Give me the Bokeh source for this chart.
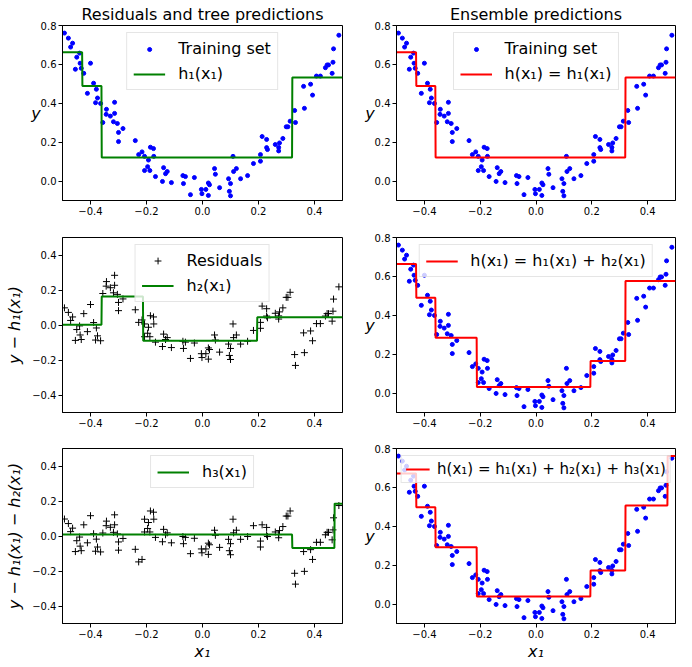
import numpy as np
from bokeh.plotting import figure
from bokeh.models import FixedTicker, Legend, LegendItem, CustomJSTickFormatter
from bokeh.layouts import column, row
from bokeh.embed import file_html
from bokeh.resources import INLINE

# ---- data ----
x1 = [-0.493, -0.479, -0.464, -0.471, -0.439, -0.449, -0.437, -0.400, -0.433, -0.454,
      -0.424, -0.389, -0.379, -0.411, -0.375, -0.382, -0.364, -0.314, -0.343, -0.344,
      -0.329, -0.314, -0.356, -0.318, -0.304, -0.284, -0.300, -0.300, -0.240,
      -0.228, -0.216, -0.207, -0.186, -0.175, -0.193, -0.174, -0.196, -0.207, -0.188,
      -0.168, -0.139, -0.126, -0.132, -0.143, -0.111, -0.070, -0.061, -0.029, -0.068,
      -0.043, -0.004, -0.002, 0.012,
      0.021, 0.021, 0.025, 0.043, 0.046, 0.061, 0.093, 0.100, 0.096, 0.100,
      0.109, 0.111, 0.121, 0.136, 0.161, 0.182, 0.207, 0.207, 0.213, 0.229,
      0.229, 0.232, 0.260,
      0.272, 0.272, 0.275, 0.287, 0.299, 0.305, 0.313, 0.332, 0.329, 0.364,
      0.361, 0.386, 0.393, 0.407, 0.421, 0.439, 0.445, 0.450, 0.463, 0.466,
      0.468, 0.487]
y = [0.761, 0.735, 0.709, 0.689, 0.658, 0.637, 0.606, 0.606, 0.580, 0.575,
     0.554, 0.503, 0.472, 0.451, 0.427, 0.403, 0.399, 0.405, 0.369, 0.343,
     0.334, 0.348, 0.301, 0.305, 0.296, 0.270, 0.250, 0.203, 0.208,
     0.136, 0.150, 0.127, 0.174, 0.167, 0.108, 0.127, 0.074, 0.054, 0.054,
     0.023, 0.069, 0.049, 0.038, -0.002, -0.008, 0.028, 0.023, 0.018, -0.013,
     -0.070, -0.043, -0.065, -0.043,
     -0.074, -0.010, -0.019, 0.064, 0.035, -0.034, 0.012, -0.013, -0.053, -0.076,
     0.127, 0.049, 0.064, 0.012, 0.028, 0.090, 0.102, 0.136, 0.229, 0.214,
     0.172, 0.162, 0.188,
     0.173, 0.155, 0.196, 0.219, 0.279, 0.279, 0.308, 0.301, 0.363, 0.374,
     0.487, 0.498, 0.442, 0.540, 0.540, 0.583, 0.597, 0.597, 0.554, 0.611,
     0.680, 0.750]

# regression-tree predictions (split points and leaf values)
h1_edges = [-0.5, -0.429, -0.360, 0.320, 0.5]
h1_values = [0.663, 0.489, 0.121, 0.532]
h2_edges = [-0.5, -0.360, -0.212, 0.195, 0.5]
h2_values = [0.001, 0.163, -0.090, 0.044]
h3_edges = [-0.5, 0.320, 0.471, 0.5]
h3_values = [0.008, -0.069, 0.185]

x_ticks = [-0.4, -0.2, 0.0, 0.2, 0.4]
y_ticks_data = [0.0, 0.2, 0.4, 0.6, 0.8]
y_ticks_res = [-0.4, -0.2, 0.0, 0.2, 0.4]

titles = ["Residuals and tree predictions", "Ensemble predictions"]

FONT = "DejaVu Sans"


def tree_predict(edges, values, xs):
    xs = np.asarray(xs)
    idx = np.clip(np.searchsorted(edges, xs, side="right") - 1, 0, len(values) - 1)
    return np.asarray(values)[idx]


X = np.asarray(x1)
Y = np.asarray(y)
x_grid = np.linspace(-0.5, 0.5, 1000)
p1 = tree_predict(h1_edges, h1_values, x_grid)
p2 = tree_predict(h2_edges, h2_values, x_grid)
p3 = tree_predict(h3_edges, h3_values, x_grid)
res1 = Y - tree_predict(h1_edges, h1_values, X)
res2 = res1 - tree_predict(h2_edges, h2_values, X)

fmt = CustomJSTickFormatter(code="return tick.toFixed(1).replace('-', '\\u2212');")


def make_fig(col, rowi, yrange, yticks, title=None, ylabel=None, horizontal=False, xlabel=None):
    left = 62 if col == 0 else 44
    right = 10 if col == 0 else 17
    top = 25 if rowi == 0 else 15
    bottom = 44 if rowi == 2 else (22 if rowi == 0 else 21)
    p = figure(frame_width=280 if col == 0 else 279, frame_height=175,
               x_range=(-0.5, 0.5), y_range=yrange,
               output_backend="svg", toolbar_location=None,
               min_border_left=left, min_border_right=right,
               min_border_top=top, min_border_bottom=bottom,
               title=title)
    if title:
        p.title.text_font = FONT
        p.title.text_font_size = "16px"
        p.title.text_font_style = "normal"
        p.title.text_color = "black"
        p.title.align = "center"
        p.title.standoff = 3
    p.grid.visible = False
    p.outline_line_color = "black"
    p.outline_line_alpha = 1.0
    p.outline_line_width = 1
    p.background_fill_color = "white"
    p.border_fill_color = "white"
    p.xaxis.ticker = FixedTicker(ticks=x_ticks)
    p.yaxis.ticker = FixedTicker(ticks=yticks)
    for ax in (p.xaxis[0], p.yaxis[0]):
        ax.formatter = fmt
        ax.major_tick_in = 0
        ax.major_tick_out = 4
        ax.minor_tick_in = 0
        ax.minor_tick_out = 0
        ax.axis_line_color = "black"
        ax.major_tick_line_color = "black"
        ax.major_label_text_font = FONT
        ax.major_label_text_font_size = "10px"
        ax.major_label_text_color = "black"
        ax.major_label_standoff = 2
        ax.axis_label_text_font = FONT
        ax.axis_label_text_font_size = "16px"
        ax.axis_label_text_font_style = "italic"
        ax.axis_label_text_color = "black"
        ax.axis_label_standoff = 5
    if ylabel:
        p.yaxis.axis_label = ylabel
        if horizontal:
            p.yaxis.axis_label_orientation = "horizontal"
            p.yaxis.axis_label_standoff = -3
    if xlabel:
        p.xaxis.axis_label = xlabel
        p.xaxis.axis_label_standoff = 1
    return p


def add_legend(p, items, font_size="16px", padding=6, glyph_width=32, standoff=13, glyph_height=10):
    lg = Legend(items=items, location="top_center", margin=7, padding=padding, spacing=6,
                glyph_width=glyph_width, glyph_height=glyph_height, label_height=17,
                label_standoff=standoff,
                label_text_font=FONT, label_text_font_size=font_size, label_text_color="black",
                border_line_color="#cccccc", border_line_width=1,
                background_fill_color="white", background_fill_alpha=0.8)
    p.add_layout(lg)


def data_points(p):
    return p.scatter(X, Y, marker="circle", size=4, fill_color="blue", line_color="blue", line_width=1)


def step_line(p, ys, color):
    return p.line(x_grid, ys, line_color=color, line_width=2)


# row 1
fa = make_fig(0, 0, (-0.1, 0.8), y_ticks_data, title=titles[0], ylabel="y", horizontal=True)
r = data_points(fa)
l = step_line(fa, p1, "green")
add_legend(fa, [LegendItem(label="Training set", renderers=[r]), LegendItem(label="h₁(x₁)", renderers=[l])])

fb = make_fig(1, 0, (-0.1, 0.8), y_ticks_data, title=titles[1], ylabel="y", horizontal=True)
r = data_points(fb)
l = step_line(fb, p1, "red")
add_legend(fb, [LegendItem(label="Training set", renderers=[r]), LegendItem(label="h(x₁) = h₁(x₁)", renderers=[l])])

# row 2
fc = make_fig(0, 1, (-0.5, 0.5), y_ticks_res, ylabel="y − h₁(x₁)")
r = fc.scatter(X, res1, marker="cross", size=7, line_color="black", line_width=1)
l = step_line(fc, p2, "green")
add_legend(fc, [LegendItem(label="Residuals", renderers=[r]), LegendItem(label="h₂(x₁)", renderers=[l])],
           glyph_height=17)

fd = make_fig(1, 1, (-0.1, 0.8), y_ticks_data, ylabel="y", horizontal=True)
data_points(fd)
l = step_line(fd, p1 + p2, "red")
add_legend(fd, [LegendItem(label="h(x₁) = h₁(x₁) + h₂(x₁)", renderers=[l])])

# row 3
fe = make_fig(0, 2, (-0.5, 0.5), y_ticks_res, ylabel="y − h₁(x₁) − h₂(x₁)", xlabel="x₁")
fe.scatter(X, res2, marker="cross", size=7, line_color="black", line_width=1)
l = step_line(fe, p3, "green")
add_legend(fe, [LegendItem(label="h₃(x₁)", renderers=[l])])

ff = make_fig(1, 2, (-0.1, 0.8), y_ticks_data, ylabel="y", horizontal=True, xlabel="x₁")
data_points(ff)
l = step_line(ff, p1 + p2 + p3, "red")
add_legend(ff, [LegendItem(label="h(x₁) = h₁(x₁) + h₂(x₁) + h₃(x₁)", renderers=[l])],
           font_size="15px", padding=4, glyph_width=24, standoff=8)

layout = column(row(fa, fb), row(fc, fd), row(fe, ff))

open("out.html", "w").write(file_html(layout, INLINE))
